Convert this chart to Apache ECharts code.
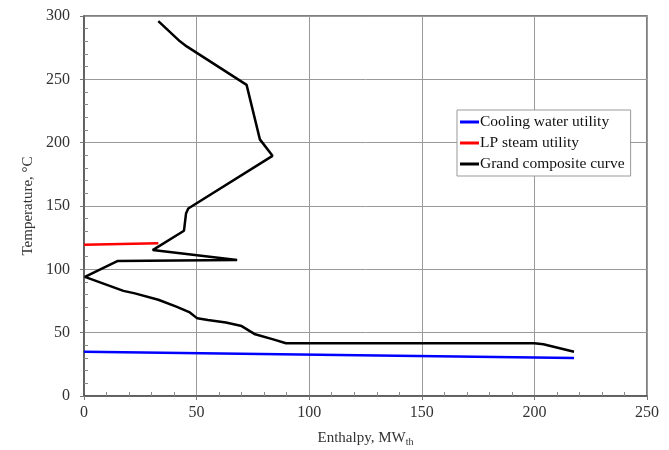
<!DOCTYPE html>
<html>
<head>
<meta charset="utf-8">
<script src="https://cdn.jsdelivr.net/npm/echarts@6/dist/echarts.min.js"></script>
<style>
  html, body { margin: 0; padding: 0; background: #fff; }
  #chart { width: 669px; height: 450px; }
</style>
</head>
<body>
<div id="chart"></div>
<script>
// grand composite curve, read from the top down
const gccEnthalpy = [33, 42.6, 45.6, 72.2, 78.1, 83.7, 46.3, 45.3, 44.4, 30.5, 68, 14.8, 0.4, 17.5, 22.6, 33, 41, 47, 50.3, 55, 63, 70, 76, 84, 89.7, 200, 204, 217.6];
const gccTemp     = [296, 280, 276, 245.6, 202.6, 189.6, 148, 144, 130.5, 115.2, 107.3, 106.5, 94, 83, 81, 76, 70.5, 66, 61.3, 60, 58, 55.2, 48.7, 44.7, 41.6, 41.6, 40.8, 35];

const coolingEnthalpy = [0, 217.6];
const coolingTemp     = [35, 30];

const steamEnthalpy = [0, 33];
const steamTemp     = [119.5, 120.5];

const xTicks = [0, 50, 100, 150, 200, 250];
const yTicks = [0, 50, 100, 150, 200, 250, 300];

const pairs = (xs, ys) => xs.map((x, i) => [x, ys[i]]);

const font = 'Liberation Serif';
const chart = echarts.init(document.getElementById('chart'), null, { renderer: 'canvas' });

const axisCommon = {
  type: 'value',
  axisLine: { show: true, lineStyle: { color: '#555', width: 1.5 } },
  axisTick: { show: false },
  minorTick: { show: true, splitNumber: 5, length: 4, lineStyle: { color: '#888' } },
  splitLine: { show: true, lineStyle: { color: '#999', width: 1 } },
  axisLabel: { color: '#333', fontFamily: font, fontSize: 16 }
};
// second set of axes only for the short outward major ticks
const tickOnly = {
  type: 'value',
  axisLine: { show: false },
  axisLabel: { show: false },
  splitLine: { show: false },
  axisTick: { show: true, inside: false, length: 4, lineStyle: { color: '#777' } }
};

const option = {
  animation: false,
  grid: {
    left: 84, right: 22, top: 16, bottom: 54,
    outerBoundsMode: 'none',
    show: true, borderColor: '#555', borderWidth: 1.5
  },
  xAxis: [
    Object.assign({}, axisCommon, {
      min: xTicks[0], max: xTicks[xTicks.length - 1], interval: 50,
      axisTick: { show: true, inside: true, length: 0 },
      axisLabel: Object.assign({}, axisCommon.axisLabel, { margin: 9 }),
      name: '{a|Enthalpy, MW}{s|th}',
      nameLocation: 'middle',
      nameGap: 34,
      nameTextStyle: {
        rich: {
          a: { fontFamily: font, fontSize: 15, color: '#333' },
          s: { fontFamily: font, fontSize: 10, color: '#333', verticalAlign: 'bottom', padding: [7, 0, 0, 0] }
        }
      }
    }),
    Object.assign({}, tickOnly, { position: 'bottom', min: xTicks[0], max: xTicks[xTicks.length - 1], interval: 50 })
  ],
  yAxis: [
    Object.assign({}, axisCommon, {
      min: yTicks[0], max: yTicks[yTicks.length - 1], interval: 50,
      axisTick: { show: true, inside: true, length: 0 },
      axisLabel: Object.assign({}, axisCommon.axisLabel, { margin: 14 }),
      name: 'Temperature, °C',
      nameLocation: 'middle',
      nameGap: 46,
      nameTextStyle: { fontFamily: font, fontSize: 15, color: '#333' }
    }),
    Object.assign({}, tickOnly, { position: 'left', min: yTicks[0], max: yTicks[yTicks.length - 1], interval: 50 })
  ],
  legend: {
    orient: 'vertical',
    left: 457,
    top: 110,
    backgroundColor: '#fff',
    borderColor: '#999',
    borderWidth: 1,
    padding: [4, 6, 4, 3],
    icon: 'rect',
    itemWidth: 19,
    itemHeight: 3,
    itemGap: 5,
    textStyle: { fontFamily: font, fontSize: 15.5, color: '#111', padding: [0, 0, 0, -4] },
    data: ['Cooling water utility', 'LP steam utility', 'Grand composite curve']
  },
  series: [
    {
      name: 'Cooling water utility', type: 'line', symbol: 'none',
      data: pairs(coolingEnthalpy, coolingTemp),
      lineStyle: { color: '#0000ff', width: 2.5 }, itemStyle: { color: '#0000ff' }
    },
    {
      name: 'LP steam utility', type: 'line', symbol: 'none',
      data: pairs(steamEnthalpy, steamTemp),
      lineStyle: { color: '#ff0000', width: 2.5 }, itemStyle: { color: '#ff0000' }
    },
    {
      name: 'Grand composite curve', type: 'line', symbol: 'none',
      data: pairs(gccEnthalpy, gccTemp),
      lineStyle: { color: '#000', width: 2.5 }, itemStyle: { color: '#000' }
    }
  ]
};

chart.setOption(option);
</script>
</body>
</html>
